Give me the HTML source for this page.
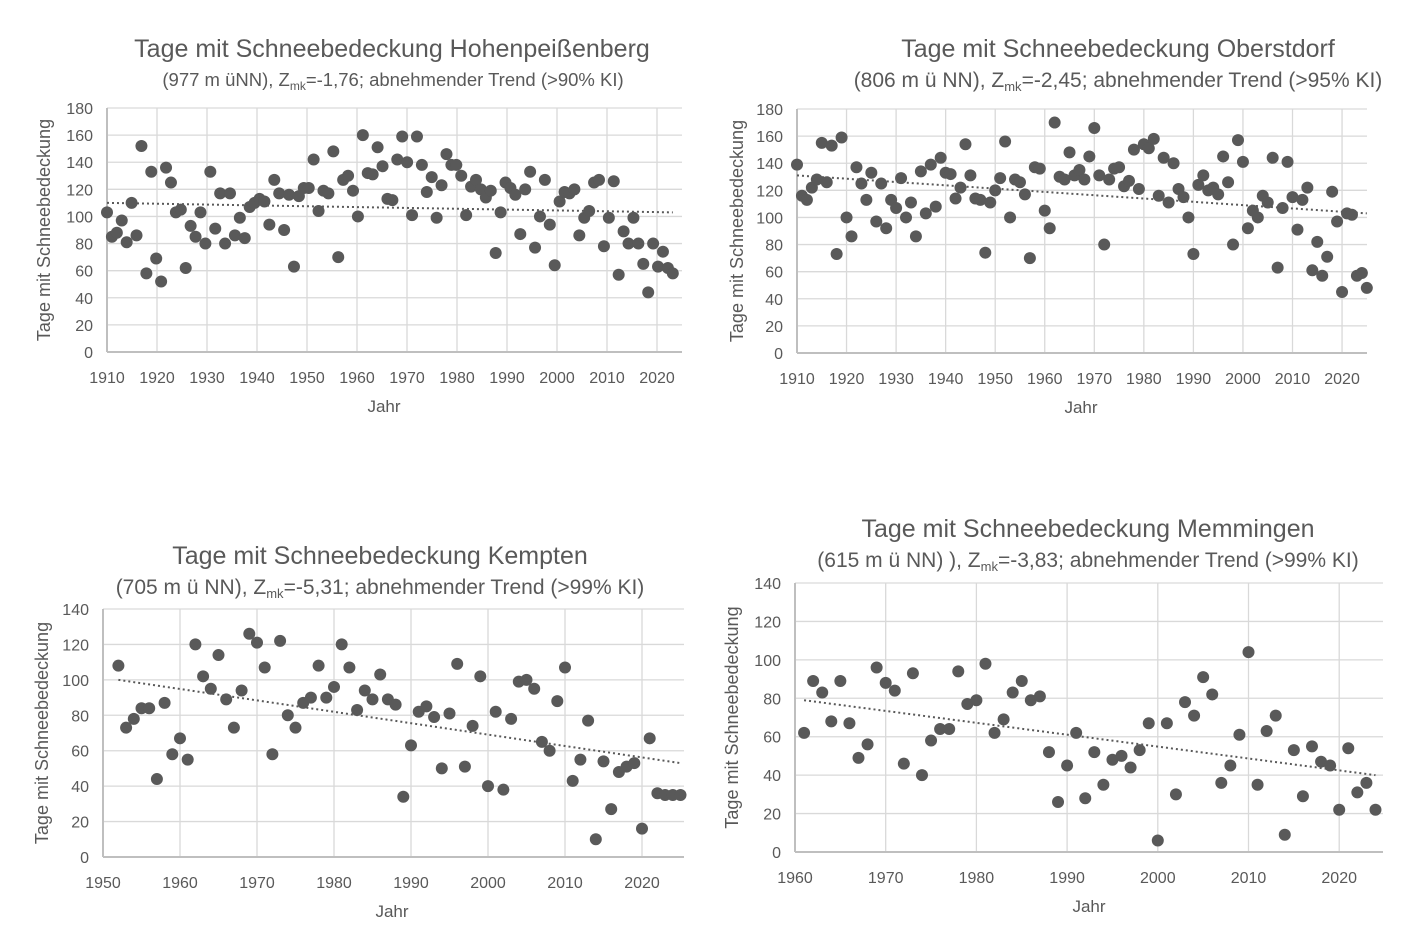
<!DOCTYPE html>
<html><head><meta charset="utf-8"><style>
body{margin:0;background:#fff}
svg text{font-family:"Liberation Sans",sans-serif;fill:#595959}
</style></head><body>
<svg id="s" width="1411" height="944" xmlns="http://www.w3.org/2000/svg">
<text x="392" y="57" font-size="25" text-anchor="middle">Tage mit Schneebedeckung Hohenpeißenberg</text>
<text x="393" y="86" font-size="18.5" text-anchor="middle">(977 m üNN), Z<tspan font-size="12" dy="4">mk</tspan><tspan dy="-4">=-1,76; abnehmender Trend (&gt;90% KI)</tspan></text>
<text x="1118" y="57" font-size="25" text-anchor="middle">Tage mit Schneebedeckung Oberstdorf</text>
<text x="1118" y="87" font-size="21" text-anchor="middle">(806 m ü NN), Z<tspan font-size="13" dy="4">mk</tspan><tspan dy="-4">=-2,45; abnehmender Trend (&gt;95% KI)</tspan></text>
<text x="380" y="564" font-size="25" text-anchor="middle">Tage mit Schneebedeckung Kempten</text>
<text x="380" y="594" font-size="21" text-anchor="middle">(705 m ü NN), Z<tspan font-size="13" dy="4">mk</tspan><tspan dy="-4">=-5,31; abnehmender Trend (&gt;99% KI)</tspan></text>
<text x="1088" y="537" font-size="25" text-anchor="middle">Tage mit Schneebedeckung Memmingen</text>
<text x="1088" y="567" font-size="21" text-anchor="middle">(615 m ü NN) ), Z<tspan font-size="13" dy="4">mk</tspan><tspan dy="-4">=-3,83; abnehmender Trend (&gt;99% KI)</tspan></text>
</svg>
<script>
var s=document.getElementById('s'),NS='http://www.w3.org/2000/svg';
function el(t,a,txt){var e=document.createElementNS(NS,t);for(var k in a)e.setAttribute(k,a[k]);if(txt!=null)e.textContent=txt;s.appendChild(e);return e;}
function chart(c){
 var X=function(y){return c.x0+(y-c.y0)*c.px;},Y=function(v){return c.b-(v/c.vmax)*(c.b-c.t);};
 var DX=function(y){return c.x0+(y-c.y0)*(c.dpx||c.px);};
 for(var v=0;v<=c.vmax;v+=20){var y=Y(v);if(v>0)el('line',{x1:c.x0,x2:c.xe,y1:y,y2:y,stroke:'#d9d9d9','stroke-width':1.3});
  el('text',{x:c.x0-14,y:y+6,'font-size':16,'text-anchor':'end'},v);}
 for(var yr=c.y0;yr<=c.y0+c.span;yr+=10){var x=X(yr);if(yr>c.y0)el('line',{x1:x,x2:x,y1:c.t,y2:c.b,stroke:'#d9d9d9','stroke-width':1.3});
  el('text',{x:x,y:c.b+31,'font-size':16,'text-anchor':'middle'},yr);}
 el('line',{x1:c.x0,x2:c.x0,y1:c.t,y2:c.b,stroke:'#bfbfbf','stroke-width':2});
 el('line',{x1:c.x0,x2:c.xe,y1:c.b,y2:c.b,stroke:'#bfbfbf','stroke-width':2});
 el('line',{x1:DX(c.tr[0]),y1:Y(c.tr[1]),x2:DX(c.tr[2]),y2:Y(c.tr[3]),stroke:'#595959','stroke-width':2,'stroke-dasharray':'2 3'});
 c.d.forEach(function(v,i){el('circle',{cx:DX(c.ys+i),cy:Y(v),r:6,fill:'#595959'});});
 el('text',{x:c.jx,y:c.b+60,'font-size':17,'text-anchor':'middle'},'Jahr');
 el('text',{x:0,y:0,'font-size':18,'text-anchor':'middle',transform:'translate('+c.ax+','+((c.t+c.b)/2)+') rotate(-90)'},'Tage mit Schneebedeckung');
}
chart({x0:107,xe:682,y0:1910,span:110,px:5.0,dpx:4.92,t:108,b:352,vmax:180,ys:1910,jx:384,ax:50,tr:[1910,110,2025,103],
d:[103,85,88,97,81,110,86,152,58,133,69,52,136,125,103,105,62,93,85,103,80,133,91,117,80,117,86,99,84,107,110,113,111,94,127,117,90,116,63,115,121,121,142,104,119,117,148,70,127,130,119,100,160,132,131,151,137,113,112,142,159,140,101,159,138,118,129,99,123,146,138,138,130,101,122,127,120,114,119,73,103,125,121,116,87,120,133,77,100,127,94,64,111,118,117,120,86,99,104,125,127,78,99,126,57,89,80,99,80,65,44,80,63,74,62,58]});
chart({x0:797,xe:1367,y0:1910,span:110,px:4.955,t:109,b:353,vmax:180,ys:1910,jx:1081,ax:743,tr:[1910,131,2025,103],
d:[139,116,113,122,128,155,126,153,73,159,100,86,137,125,113,133,97,125,92,113,107,129,100,111,86,134,103,139,108,144,133,132,114,122,154,131,114,113,74,111,120,129,156,100,128,126,117,70,137,136,105,92,170,130,128,148,131,135,128,145,166,131,80,128,136,137,123,127,150,121,154,151,158,116,144,111,140,121,115,100,73,124,131,120,122,117,145,126,80,157,141,92,105,100,116,111,144,63,107,141,115,91,113,122,61,82,57,71,119,97,45,103,102,57,59,48]});
chart({x0:103,xe:684,y0:1950,span:70,px:7.7,t:609,b:857,vmax:140,ys:1952,jx:392,ax:48,tr:[1952,100,2025,53],
d:[108,73,78,84,84,44,87,58,67,55,120,102,95,114,89,73,94,126,121,107,58,122,80,73,87,90,108,90,96,120,107,83,94,89,103,89,86,34,63,82,85,79,50,81,109,51,74,102,40,82,38,78,99,100,95,65,60,88,107,43,55,77,10,54,27,48,51,53,16,67,36,35,35,35]});
chart({x0:795,xe:1383,y0:1960,span:60,px:9.07,t:583,b:852,vmax:140,ys:1961,jx:1089,ax:738,tr:[1961,79,2024,40],
d:[62,89,83,68,89,67,49,56,96,88,84,46,93,40,58,64,64,94,77,79,98,62,69,83,89,79,81,52,26,45,62,28,52,35,48,50,44,53,67,6,67,30,78,71,91,82,36,45,61,104,35,63,71,9,53,29,55,47,45,22,54,31,36,22]});
</script>
</body></html>
